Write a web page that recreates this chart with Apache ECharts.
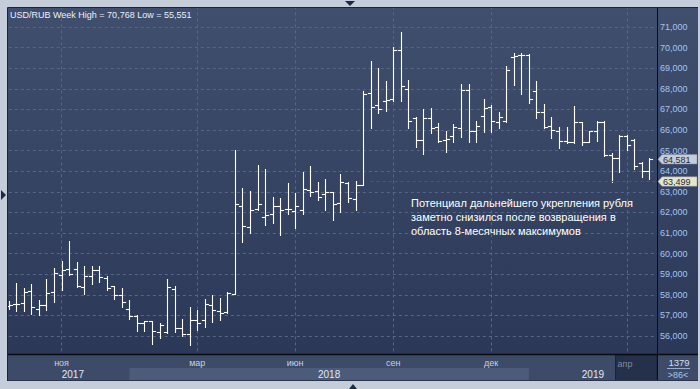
<!DOCTYPE html>
<html><head><meta charset="utf-8">
<script src="https://cdn.jsdelivr.net/npm/echarts@6/dist/echarts.min.js"></script>
<style>html,body{margin:0;padding:0;background:#c4cdd9;}#c{width:700px;height:389px;}</style>
</head><body><div id="c"></div>
<script>
// Weekly USD/RUB OHLC
const opens  = [57.45,57.57,57.60,58.18,57.29,57.52,58.15,58.98,59.26,59.23,58.37,58.90,59.19,58.81,58.42,57.98,57.29,56.97,56.65,56.71,56.21,56.19,58.30,56.40,56.10,56.80,56.80,57.50,57.20,57.16,58.05,62.30,61.30,62.17,61.80,61.90,62.33,62.17,62.05,62.10,63.08,63.03,62.90,62.98,62.45,63.44,62.63,63.35,67.80,67.23,67.42,67.50,69.87,67.98,66.58,65.53,66.60,66.16,65.50,65.71,66.10,67.95,65.97,66.69,67.13,66.40,66.45,69.55,69.65,69.65,67.87,66.85,66.20,65.97,65.45,65.40,66.37,65.40,65.97,66.37,64.80,64.65,65.73,65.52,64.39,64.03];
const highs  = [57.70,58.56,58.34,58.53,57.77,58.79,59.31,59.63,60.63,59.60,59.39,59.40,59.39,58.90,58.42,58.34,57.73,57.00,56.73,56.73,56.65,58.79,58.45,56.83,57.40,57.27,57.80,58.00,57.85,58.13,65.05,63.20,63.04,64.29,64.10,62.77,62.72,63.45,62.93,63.97,64.24,63.48,63.60,62.98,63.87,63.50,63.52,67.87,69.35,69.02,68.39,70.03,70.768,68.42,66.61,67.02,67.06,66.34,65.97,66.29,68.23,68.23,66.45,67.50,67.23,66.85,69.11,69.76,69.76,69.68,68.39,67.26,66.61,66.16,66.16,67.18,66.37,65.97,66.45,66.45,64.87,65.76,65.76,65.56,64.44,64.65];
const lows   = [57.30,57.23,57.21,57.05,57.02,57.26,57.65,58.23,58.95,58.39,58.05,58.53,58.61,58.21,57.81,57.40,56.84,56.24,56.24,55.63,55.92,56.16,56.20,56.02,55.551,56.27,56.43,56.67,56.78,57.13,58.05,60.56,61.00,62.10,61.37,61.49,60.92,61.94,61.26,61.94,62.80,62.62,62.10,61.62,62.02,62.50,62.13,63.31,66.08,66.81,66.94,67.42,67.42,66.08,65.19,64.84,65.84,65.40,64.92,65.40,65.65,65.40,65.40,65.89,65.92,66.10,66.37,68.19,67.74,67.29,66.58,66.10,65.61,65.13,65.35,65.35,65.29,65.40,65.48,64.76,63.499,63.95,65.03,64.11,63.74,63.63];
const closes = [57.49,57.54,58.15,57.40,57.52,58.10,59.06,59.19,59.03,58.45,58.90,59.19,58.87,58.34,57.98,57.65,56.97,56.65,56.71,56.26,56.55,58.39,56.40,56.10,56.77,56.65,57.53,57.27,57.14,58.10,62.43,61.32,62.14,62.41,61.89,62.33,62.14,62.18,62.33,63.16,62.98,62.77,62.98,62.43,63.50,62.69,63.35,67.77,67.13,67.02,67.47,69.87,68.15,66.45,65.53,66.58,66.10,65.45,65.56,66.13,67.95,65.97,66.19,67.06,66.45,66.65,68.90,69.60,69.65,67.50,66.89,66.16,66.00,65.48,65.40,66.37,65.40,65.97,66.37,64.81,64.65,65.73,65.29,64.23,64.03,64.581];

const monthTicks = {7:'ноя', 25:'мар', 38:'июн', 51:'сен', 64:'дек', 82:'апр'};
const yearLabels = ['2017', '2018', '2019'];
const yearStarts = [1, 16, 69, 86];   // category indices of year boundaries
const headerText = 'USD/RUB Week High = 70,768 Low = 55,551';
const noteLines = ['Потенциал дальнейшего укрепления рубля', 'заметно снизился после возвращения в', 'область 8-месячных максимумов'];
const lastPrice = 64.581;
const markLevel = 63.499;
const markStart = 48;
const counterTop = '1379';
const counterBottom = '>86<';

const nCat = opens.length + 1;
const cats = [];
for (let i = 0; i < nCat; i++) cats.push(monthTicks[i] || '');

const fmt = v => v.toFixed(3).replace('.', ',');
const chart = echarts.init(document.getElementById('c'), null, {renderer: 'svg'});

const ohlc = opens.map((o, i) => [i, o, highs[i], lows[i], closes[i]]);

chart.setOption({
  animation: false,
  backgroundColor: 'transparent',
  grid: {left: 8.8, right: 43, top: 6.4, bottom: 32.4},
  xAxis: {
    type: 'category', data: cats, boundaryGap: false,
    axisLine: {show: false}, axisTick: {show: false},
    axisLabel: {show: false},
    splitLine: {show: true, interval: (idx) => monthTicks[idx] !== undefined,
      lineStyle: {color: '#56668a', type: [3, 3], width: 1}}
  },
  yAxis: {
    type: 'value', position: 'right', min: 55, max: 72, interval: 1,
    axisLine: {show: true, lineStyle: {color: '#0c0e14', width: 1}},
    axisTick: {show: false},
    axisLabel: {margin: 3, fontSize: 9, color: '#a4c4ee', fontFamily: 'Liberation Sans',
      formatter: v => (v <= 55 || v >= 72) ? '' : fmt(v)},
    splitLine: {show: true, lineStyle: {color: '#56668a', type: [3, 3], width: 1}}
  },
  series: [{
    type: 'custom',
    data: ohlc,
    encode: {x: 0, y: [1, 2, 3, 4]},
    z: 3,
    renderItem: (params, api) => {
      const i = api.value(0);
      const pO = api.coord([i, api.value(1)]);
      const pH = api.coord([i, api.value(2)]);
      const pL = api.coord([i, api.value(3)]);
      const pC = api.coord([i, api.value(4)]);
      const x = Math.round(pH[0]) + 0.5;
      const r = v => Math.round(v) + 0.5;
      const t = 3.6;
      const st = {stroke: '#ffffff', lineWidth: 1.1};
      return {type: 'group', children: [
        {type: 'line', shape: {x1: x, y1: r(pH[1]) - 0.5, x2: x, y2: r(pL[1]) + 0.5}, style: st},
        {type: 'line', shape: {x1: x - t, y1: r(pO[1]), x2: x, y2: r(pO[1])}, style: st},
        {type: 'line', shape: {x1: x, y1: r(pC[1]), x2: x + t, y2: r(pC[1])}, style: st}
      ]};
    },
    markLine: {
      silent: true, symbol: 'none', label: {show: false},
      lineStyle: {color: '#c82828', type: [3, 3], width: 1},
      data: [[{coord: [markStart, markLevel]}, {coord: [nCat - 1, markLevel]}]]
    }
  }]
});

const px = i => chart.convertToPixel({xAxisIndex: 0}, i);
const py = v => chart.convertToPixel({yAxisIndex: 0}, v);
const right = 657;
const stripTop = 354, rowMid = 368, stripBot = 381;

const g = [];
// plot background gradient
g.push({type: 'rect', z: -10, shape: {x: 8, y: 8, width: 692, height: stripTop - 8},
  style: {fill: new echarts.graphic.LinearGradient(0, 0, 0, 1, [{offset: 0, color: '#414f6e'}, {offset: 1, color: '#2b3857'}])}});
// bottom strip
g.push({type: 'rect', z: 20, shape: {x: 8, y: stripTop, width: 692, height: stripBot - stripTop}, style: {fill: '#3d4b69'}});
g.push({type: 'rect', z: 21, shape: {x: px(yearStarts[1]), y: rowMid, width: px(yearStarts[2]) - px(yearStarts[1]), height: stripBot - rowMid - 1}, style: {fill: '#4b5b79'}});
const aprX = (px(80) + px(81)) / 2;
g.push({type: 'rect', z: 21, shape: {x: aprX, y: stripTop + 1, width: right - aprX, height: stripBot - stripTop - 1}, style: {fill: '#25304a', stroke: '#1a2236', lineWidth: 1}});
// month labels
Object.keys(monthTicks).forEach(k => {
  const i = +k, t = monthTicks[k];
  if (t === 'апр') {
    g.push({type: 'text', z: 23, style: {x: aprX + 2, y: 364, text: t, fill: '#7c8aa4', fontSize: 9, fontFamily: 'Liberation Sans', verticalAlign: 'middle'}});
  } else {
    g.push({type: 'text', z: 23, style: {x: px(i), y: 363, text: t, fill: '#c6d0e0', fontSize: 9, fontFamily: 'Liberation Sans', align: 'center', verticalAlign: 'middle'}});
  }
});
g.push({type: 'line', z: 22, shape: {x1: 8, y1: stripTop + 0.5, x2: 700, y2: stripTop + 0.5}, style: {stroke: '#0a0c12', lineWidth: 1.5}});
g.push({type: 'line', z: 22, shape: {x1: right + 0.5, y1: stripTop, x2: right + 0.5, y2: stripBot}, style: {stroke: '#0a0c12', lineWidth: 1}});
g.push({type: 'line', z: 22, shape: {x1: 8, y1: stripBot - 0.5, x2: 700, y2: stripBot - 0.5}, style: {stroke: '#2a344a', lineWidth: 1}});
// year labels
const yearCenters = [(px(yearStarts[0]) + px(yearStarts[1])) / 2, (px(yearStarts[1]) + px(yearStarts[2])) / 2, (px(yearStarts[2]) + right) / 2];
yearLabels.forEach((t, k) => g.push({type: 'text', z: 23, style: {x: yearCenters[k], y: 374, text: t, fill: '#e2e8f2', fontSize: 10, fontFamily: 'Liberation Sans', align: 'center', verticalAlign: 'middle'}}));
// counter box
g.push({type: 'text', z: 23, style: {x: 679, y: 362, text: counterTop, fill: '#d4dcea', fontSize: 9.5, fontFamily: 'Liberation Sans', align: 'center', verticalAlign: 'middle'}});
g.push({type: 'line', z: 23, shape: {x1: 667, y1: 368.5, x2: 690, y2: 368.5}, style: {stroke: '#9aaccc', lineWidth: 1}});
g.push({type: 'text', z: 23, style: {x: 678, y: 375, text: counterBottom, fill: '#a4c4ee', fontSize: 9, fontFamily: 'Liberation Sans', align: 'center', verticalAlign: 'middle'}});
// frame
g.push({type: 'rect', z: 30, shape: {x: 0, y: 0, width: 700, height: 8}, style: {fill: '#c4cdd9'}});
g.push({type: 'rect', z: 30, shape: {x: 0, y: 0, width: 8, height: 389}, style: {fill: '#c4cdd9'}});
g.push({type: 'rect', z: 30, shape: {x: 0, y: stripBot, width: 700, height: 389 - stripBot}, style: {fill: '#c4cdd9'}});
g.push({type: 'rect', z: 30, shape: {x: 698, y: 0, width: 2, height: 389}, style: {fill: '#c4cdd9'}});
g.push({type: 'line', z: 31, shape: {x1: 7.5, y1: 7.5, x2: 698, y2: 7.5}, style: {stroke: '#1c2436', lineWidth: 1}});
g.push({type: 'line', z: 31, shape: {x1: 7.5, y1: 7.5, x2: 7.5, y2: stripBot}, style: {stroke: '#1c2436', lineWidth: 1}});
g.push({type: 'polygon', z: 31, shape: {points: [[345, 1], [355, 1], [350, 6]]}, style: {fill: '#1c2a44'}});
g.push({type: 'polygon', z: 31, shape: {points: [[1, 190], [1, 200], [6, 195]]}, style: {fill: '#1c2a44'}});
g.push({type: 'polygon', z: 31, shape: {points: [[349, 389], [357, 389], [353, 384]]}, style: {fill: '#1c2a44'}});
// header
g.push({type: 'text', z: 25, style: {x: 10, y: 15, text: headerText, fill: '#eaf0f8', fontSize: 9, fontFamily: 'Liberation Sans', verticalAlign: 'middle'}});
// note
noteLines.forEach((t, k) => g.push({type: 'text', z: 25, style: {x: 411, y: 203 + k * 14, text: t, fill: '#ffffff', fontSize: 11, fontFamily: 'Liberation Sans', verticalAlign: 'middle'}}));
// price tags
function tag(v, fill) {
  const y = py(v);
  const h = 4.7;
  g.push({type: 'polygon', z: 26, shape: {points: [[658, y], [662, y - h], [697, y - h], [697, y + h], [662, y + h]]}, style: {fill: fill, stroke: '#8a94a6', lineWidth: 0.5}});
  g.push({type: 'text', z: 27, style: {x: 663, y: y + 0.5, text: fmt(v), fill: '#1e2c48', fontSize: 9, fontFamily: 'Liberation Sans', verticalAlign: 'middle'}});
}
tag(lastPrice, '#c6cdd8');
tag(markLevel, '#e8e6c6');

chart.setOption({graphic: {elements: g}});
</script></body></html>
